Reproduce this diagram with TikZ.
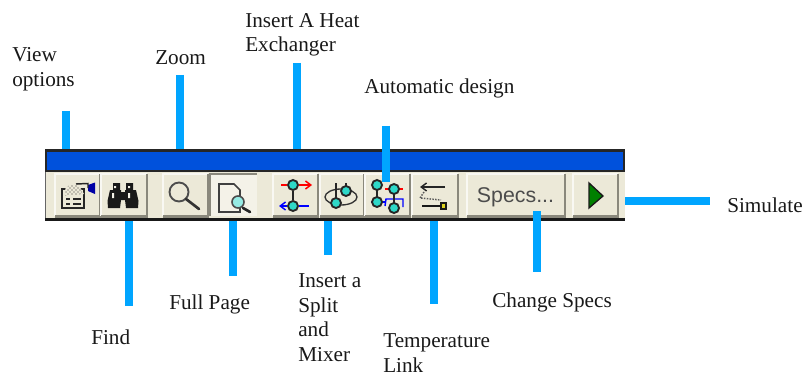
\documentclass[tikz,border=0pt]{standalone}
\usepackage{fontspec}
\setmainfont{Liberation Serif}
\newfontfamily\uifont{Liberation Sans}
\usetikzlibrary{arrows.meta,patterns}
\definecolor{face}{HTML}{ECE9D8}
\definecolor{bluebar}{HTML}{0051DC}
\definecolor{cy}{HTML}{00A5FF}
\definecolor{dk}{HTML}{8A887C}
\definecolor{tl}{HTML}{2ED8C8}
\newcommand{\firstline}{\rule{0pt}{12pt}}
\tikzset{
 lbl/.style={font=\fontsize{15.9pt}{18.4pt}\selectfont,align=left,anchor=north west,inner sep=0pt,text=black!90,execute at begin node=\firstline},
 lead/.style={draw=cy,line width=6pt},
 wirek/.style={draw=black!85,line width=1.2pt},
 wirer/.style={draw=red,line width=1.1pt},
 wireb/.style={draw=blue,line width=1.1pt},
 hub/.style={circle,fill=tl,draw=black!85,line width=1.4pt,minimum size=7.5pt,inner sep=0pt},
}
\newcommand{\tbtn}[2]{%
 \fill[face] (#1,174) rectangle (#2,216);
 \draw[white!70!face,line width=1pt] (#1,216) -- (#1,174) -- (#2,174);
 \draw[dk,line width=1.6pt] (#1,216.5) -- (#2,216.5) -- (#2,174);
}
\begin{document}
\begin{tikzpicture}[x=0.75pt,y=-0.75pt]
\useasboundingbox (0,0) rectangle (805,374);
\fill[white] (0,0) rectangle (805,374);
% toolbar
\node[fill=face,minimum width=435pt,minimum height=52.5pt,inner sep=0pt,anchor=north west] (bar) at (45,149.5) {};
\fill[black!85] (45,149) rectangle (625,172);
\fill[bluebar] (47,152) rectangle (623,170);
\fill[black!90] (45,218) rectangle (625,220.5);
\fill[black!60] (45,172) rectangle (46,218);
\tbtn{55}{100}\tbtn{101}{147}\tbtn{163}{208}
% pressed button
\fill[face!60!white] (210,174) rectangle (257,216);
\draw[dk,line width=1.6pt] (210,216) -- (210,174) -- (257,174);
\tbtn{273}{318}\tbtn{320}{364}\tbtn{365}{410}\tbtn{412}{458}\tbtn{467}{565}\tbtn{573}{618}
% view options icon
\draw[black!85,line width=1.2pt] (62,189) rectangle (84,208);
\fill[face] (66,186) -- (78,184) -- (84,194) -- (64,196) -- cycle;
\fill[pattern=crosshatch dots,pattern color=black!80] (68,186) -- (78,184) -- (83,194) -- (64,196) -- cycle;
\draw[black!85,line width=1.1pt] (66,199) -- (70,199) (73,199) -- (81,199) (66,204) -- (70,204) (73,204) -- (81,204);
\fill[blue!65!black] (88,185) -- (95,182.5) -- (95,194) -- (88,191) -- cycle;
\draw[black!85,line width=1.1pt] (76,184) -- (88,183.5) -- (88,188);
% binoculars
\fill[black!90] (113,183) rectangle (120,191) (126,183) rectangle (133,191);
\fill[black!90] (110,190) -- (121,190) -- (121,192) -- (125,192) -- (125,190) -- (136,190) -- (138.5,201) -- (138,208) -- (126,208) -- (125,200) -- (121,200) -- (120,208) -- (108,208) -- (107.5,201) -- cycle;
\fill[face!60!white] (112,193) rectangle (114,198) (128,193) rectangle (130,198) (114,186) rectangle (116,188) (128,186) rectangle (130,188);
% magnifier
\draw[black!70,line width=1.4pt] (179,192) circle[radius=9.5];
\draw[black!80,line width=2pt,line cap=round] (186,199) -- (199,209);
% full page
\draw[black!75,line width=1.3pt,fill=face!60!white] (219,184) -- (234,184) -- (240,190) -- (240,212) -- (219,212) -- cycle;
\draw[black!85,line width=2pt,line cap=round] (243,208) -- (250,212);
\draw[black!70,line width=1.2pt,fill=tl!50!white] (238,202) circle[radius=6];
% heat exchanger icon
\node[hub] (h1) at (293,185) {};
\node[hub] (h2) at (293,206) {};
\draw[wirer,-{Straight Barb[length=4pt,width=6pt]}] (h1) -- (312,185);
\draw[wirer] (281,185) -- (h1);
\draw[wireb,-{Straight Barb[length=4pt,width=6pt]}] (h2) -- (279,206);
\draw[wireb] (h2) -- (309,206);
\draw[wirek] (h1) -- (h2);
% split icon
\draw[black!80,line width=1pt] (341,197) ellipse[x radius=16,y radius=8];
\draw[wirek] (336,183) -- (336,203) (346,183) -- (346,191);
\node[hub] (s1) at (346,191) {};
\node[hub] (s2) at (336,203) {};
% auto design icon
\draw[wirer] (385,189) -- (403,189);
\draw[wireb] (371,202) -- (385,202);
\draw[wireb] (385,206) -- (386,199) -- (403,199) -- (403,207);
\draw[wirek] (377,185) -- (377,202) (394,189) -- (394,208);
\node[hub] (a1) at (377,185) {};
\node[hub] (a2) at (377,202) {};
\node[hub] (a3) at (394,189) {};
\node[hub] (a4) at (394,208) {};
% temperature link icon
\draw[black!85,line width=1.1pt,-{Straight Barb[length=4pt,width=6pt]}] (445,187) -- (420,187);
\draw[black!65,line width=1.1pt,densely dotted] (424,192) -- (420,198) -- (441,200);
\draw[black!90,line width=1.5pt] (422,206) -- (441,206);
\fill[yellow!85!black,draw=black!90,line width=1pt] (441,203) rectangle (446,209);
% specs
\node[inner sep=0pt,text=black!70,font=\uifont\fontsize{16pt}{18pt}\selectfont] (specs) at (515.5,197) {Specs...};
% play
\fill[green!50!black,draw=black!90,line width=1pt] (589,183) -- (603,196) -- (589,208) -- cycle;
% leader lines
\coordinate (v0) at (66,111); \coordinate (v1) at (66,149);
\coordinate (z0) at (180,75); \coordinate (z1) at (180,149);
\coordinate (x0) at (297,63); \coordinate (x1) at (297,149);
\coordinate (d0) at (386,126); \coordinate (d1) at (386,182);
\coordinate (f0) at (129,221); \coordinate (f1) at (129,306);
\coordinate (p0) at (233,221); \coordinate (p1) at (233,276);
\coordinate (m0) at (328,221); \coordinate (m1) at (328,255);
\coordinate (t0) at (434,221); \coordinate (t1) at (434,304);
\coordinate (c0) at (537,211); \coordinate (c1) at (537,272);
\coordinate (r0) at (625,201); \coordinate (r1) at (710,201);
\foreach \a/\b in {v0/v1,z0/z1,x0/x1,d0/d1,f0/f1,p0/p1,m0/m1,t0/t1,c0/c1,r0/r1}
  \draw[lead] (\a) -- (\b);
% labels (node y = baseline of first line - 16)
\node[lbl] (lview) at (12,47.5) {View\\options};
\node[lbl] (lzoom) at (155,48) {Zoom};
\node[lbl] (lheat) at (245,13) {Insert A Heat\\Exchanger};
\node[lbl] (lauto) at (364,77) {Automatic design};
\node[lbl] (lsim) at (727,196) {Simulate};
\node[lbl] (lfind) at (91,328) {Find};
\node[lbl] (lfull) at (169,293) {Full Page};
\node[lbl] (lsplit) at (298,273.5) {Insert a\\Split\\and\\Mixer};
\node[lbl] (ltemp) at (383,333.5) {Temperature\\Link};
\node[lbl] (lchg) at (492,291.5) {Change Specs};
\end{tikzpicture}
\end{document}
